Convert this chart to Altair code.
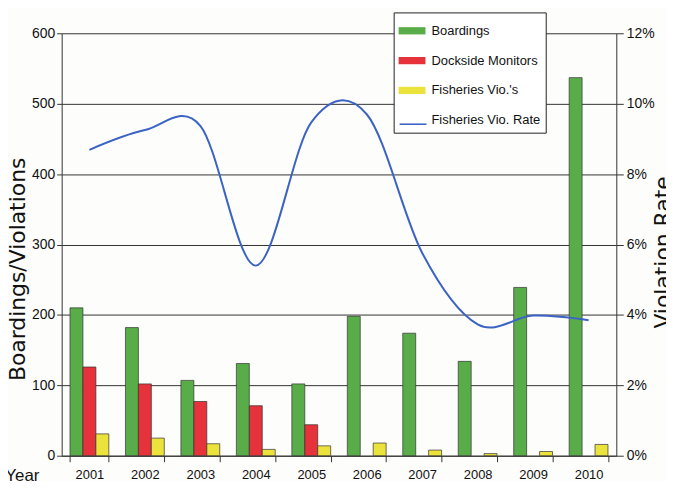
import sys
import altair as alt
import pandas as pd

years = ["2001", "2002", "2003", "2004", "2005", "2006", "2007", "2008", "2009", "2010"]
boardings = [210, 182, 107, 131, 102, 198, 174, 134, 239, 537]
dockside = [126, 102, 77, 71, 44, 0, 0, 0, 0, 0]
fish_vios = [31, 25, 17, 9, 14, 18, 8, 3, 6, 16]
vio_rate = [0.0869, 0.0925, 0.0937, 0.0540, 0.0947, 0.0970, 0.0576, 0.0373, 0.0398, 0.0385]

bar_series = ["Boardings", "Dockside Monitors", "Fisheries Vio.'s"]
line_series = "Fisheries Vio. Rate"
all_series = bar_series + [line_series]
colors = ["#58ad48", "#e5323b", "#ece23c", "#3b63c4"]
# placeholder slots so the line's legend entry lines up with the 4th row
line_slots = ["·", "··", "···", line_series]

rows = []
for i, y in enumerate(years):
    for s, vals in zip(bar_series, [boardings, dockside, fish_vios]):
        if vals[i] > 0:
            rows.append({"year": y, "series": s, "value": vals[i]})
bar_df = pd.DataFrame(rows)
line_df = pd.DataFrame({"year": years, "rate": vio_rate, "line_series": line_series})

FONT = "Liberation Sans, Arial, sans-serif"
RECT = "M-1,-0.27H1V0.27H-1Z"
STROKE = "M-1,0H1"

LX, LY, PAD, ROWPAD, SYM = 334, -21, 5, 9, 27
common_legend = dict(
    orient="none", legendX=LX, legendY=LY, title=None, symbolSize=SYM * SYM,
    rowPadding=ROWPAD, padding=PAD, labelFont=FONT, labelFontSize=13, labelOffset=6,
)

try:
    legend_bars = alt.Legend(
        zindex=1, symbolType=RECT, symbolStrokeWidth=0,
        labelColor="#111", strokeColor="#222", fillColor="white", **common_legend,
    )
    legend_line = alt.Legend(
        zindex=2, symbolType=STROKE, symbolStrokeWidth=1.6,
        labelColor="#111", labelOpacity=0, **common_legend,
    )

    x_enc = alt.X(
        "year:N", sort=years,
        scale=alt.Scale(paddingInner=0.3, paddingOuter=0.15),
        axis=alt.Axis(
            title="Year", titleX=-40, titleY=20, titleAlign="center", titleBaseline="middle",
            titleFontSize=17, titleFont=FONT, titleFontWeight="normal", titleColor="#111",
            labelAngle=0, labelFontSize=13, labelFont=FONT, labelColor="#111", labelPadding=7,
            tickBand="extent", tickSize=6, tickColor="#333", domainColor="#333",
        ),
    )

    bars = alt.Chart(bar_df).mark_bar(stroke="#333", strokeWidth=0.7).encode(
        x=x_enc,
        xOffset=alt.XOffset("series:N", scale=alt.Scale(domain=bar_series, paddingInner=0, paddingOuter=0)),
        y=alt.Y(
            "value:Q",
            scale=alt.Scale(domain=[0, 600], nice=False),
            axis=alt.Axis(
                values=[0, 100, 200, 300, 400, 500, 600], title="Boardings/Violations",
                titleFont="DejaVu Sans", titleFontSize=22, titleFontWeight="normal", titleColor="#111",
                titleAngle=270, titleX=-44, titleY=237, titleAlign="center", titleBaseline="middle",
                labelFont=FONT, labelFontSize=14, labelColor="#111", labelPadding=2,
                grid=True, gridColor="#333", gridWidth=1, tickSize=5, tickColor="#333", domainColor="#333",
            ),
        ),
        fill=alt.Fill("series:N",
                      scale=alt.Scale(domain=all_series, range=colors[:3] + ["transparent"]),
                      legend=legend_bars),
    )

    line = alt.Chart(line_df).mark_line(interpolate="cardinal", strokeWidth=2).encode(
        x=alt.X("year:N", sort=years),
        y=alt.Y(
            "rate:Q",
            scale=alt.Scale(domain=[0, 0.12], nice=False),
            axis=alt.Axis(
                orient="right", values=[0, 0.02, 0.04, 0.06, 0.08, 0.10, 0.12], format=".0%",
                title="Violation Rate", titleFont="DejaVu Sans", titleFontSize=22,
                titleFontWeight="normal", titleColor="#111",
                titleAngle=270, titleX=47, titleY=220, titleAlign="center", titleBaseline="middle",
                labelFont=FONT, labelFontSize=14, labelColor="#111", labelPadding=3,
                grid=False, tickSize=7, tickColor="#333", domainColor="#333",
            ),
        ),
        stroke=alt.Stroke("line_series:N",
                          scale=alt.Scale(domain=line_slots,
                                          range=["transparent", "transparent", "transparent", colors[3]]),
                          legend=legend_line),
    )

    chart = alt.layer(bars, line).resolve_scale(y="independent").properties(
        width=558, height=425,
        autosize=alt.AutoSizeParams(type="none"),
        padding={"left": 54, "top": 24, "right": 50, "bottom": 24},
        background="#fdfdfb",
    ).configure_view(stroke=None)

    chart.save("out.html", embed_options={"renderer": "svg", "actions": False})
except Exception as e:
    sys.stderr.write("ERRHEAD: " + str(e)[:1200])
    sys.exit(1)
